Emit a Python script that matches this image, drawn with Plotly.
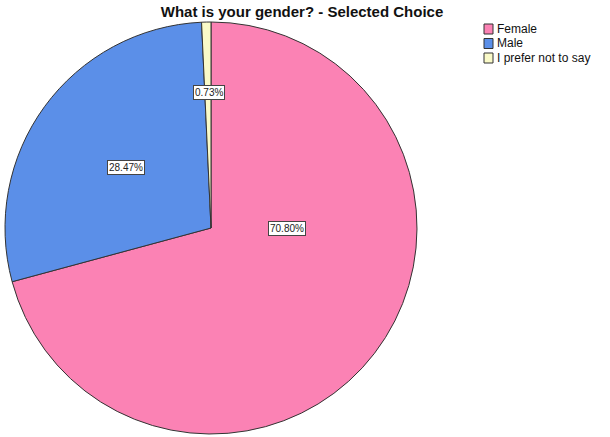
import plotly.graph_objects as go

categories = ["Female", "Male", "I prefer not to say"]
percents = [70.80, 28.47, 0.73]
colors = ["#FB82B4", "#5B8FE8", "#FAFAC8"]
label_texts = ["70.80%", "28.47%", "0.73%"]
# label anchor positions (paper fraction) for the boxed value labels
label_x = [0.470, 0.207, 0.343]
label_y = [0.476, 0.616, 0.789]

W, H = 610, 437
FONT = "Liberation Sans, Arial"
fig = go.Figure(go.Pie(
    labels=categories,
    values=percents,
    sort=False,
    direction="clockwise",
    rotation=0,
    marker=dict(colors=colors, line=dict(color="#333333", width=1)),
    textinfo="none",
    hoverinfo="label+percent",
    showlegend=False,
    domain=dict(x=[5 / W, 417 / W], y=[1 - 434 / H, 1 - 22 / H]),
))

for t, x, y in zip(label_texts, label_x, label_y):
    fig.add_annotation(
        x=x, y=y, xref="paper", yref="paper", xanchor="center", yanchor="middle",
        text=t, showarrow=False,
        font=dict(family=FONT, size=10, color="#222222"),
        bgcolor="white", bordercolor="#444444", borderwidth=1, borderpad=1,
    )

# manual legend (compact, like the reference)
leg_x0, leg_y0, leg_dy = 484, 29, 14.5
for i, (name, col) in enumerate(zip(categories, colors)):
    yc = leg_y0 + i * leg_dy
    fig.add_shape(type="rect", xref="paper", yref="paper",
                  x0=leg_x0 / W, x1=(leg_x0 + 9) / W,
                  y0=1 - (yc + 5) / H, y1=1 - (yc - 5) / H,
                  fillcolor=col, line=dict(color="#333333", width=1))
    fig.add_annotation(x=(leg_x0 + 11) / W, y=1 - yc / H, xref="paper", yref="paper",
                       xanchor="left", yanchor="middle", text=name, showarrow=False,
                       font=dict(family=FONT, size=12, color="#111111"))

fig.update_layout(
    width=W, height=H,
    margin=dict(l=0, r=0, t=0, b=0),
    paper_bgcolor="white",
    title=dict(text="<b>What is your gender? - Selected Choice</b>",
               x=302 / W, xanchor="center", y=1 - 12 / H, yanchor="middle",
               font=dict(family=FONT, size=15, color="#111111")),
    showlegend=False,
)

fig.write_html("out.html", config={"displayModeBar": False},
               post_script="document.body.style.margin='0';")
